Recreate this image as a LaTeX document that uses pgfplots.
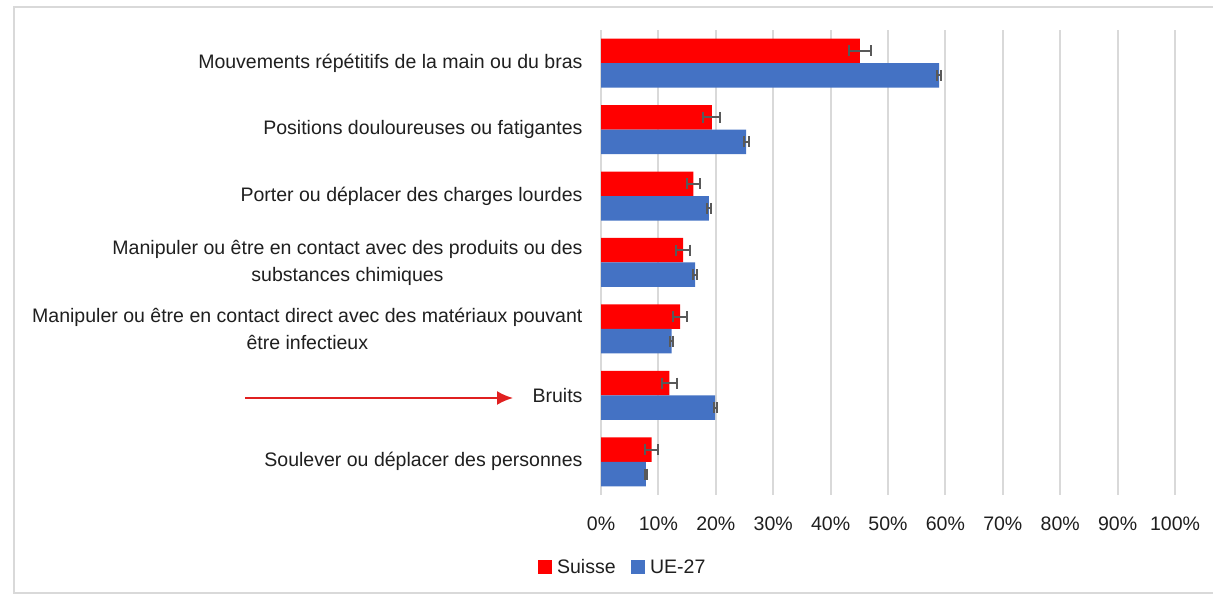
\documentclass[border=0pt]{standalone}
\usepackage{fontspec}
\setmainfont{Liberation Sans}
\usepackage{pgfplots}
\pgfplotsset{compat=1.18}
\usetikzlibrary{arrows.meta}
\definecolor{suisse}{HTML}{FF0000}
\definecolor{ue}{HTML}{4472C4}
\definecolor{gridc}{HTML}{D9D9D9}
\definecolor{errc}{HTML}{595959}
\definecolor{txt}{HTML}{1F1F1F}
\definecolor{arrowc}{HTML}{E02020}
\newcommand{\lblfont}{\fontsize{19.6}{27}\selectfont}
\begin{document}
\begin{tikzpicture}[x=1bp,y=1bp]
\useasboundingbox (0,0) rectangle (1213,595);
\fill[white] (0,0) rectangle (1213,595);
\draw[gridc, line width=2bp] (1230,2) -- (14,2) -- (14,588) -- (1230,588);
\begin{axis}[
  at={(601bp,100bp)}, anchor=south west,
  scale only axis, width=574bp, height=465bp,
  xmin=0, xmax=100, ymin=-0.5, ymax=6.5,
  xbar, bar width=24.5bp,
  axis line style={draw=none},
  major tick length=0pt,
  xtick={0,10,...,100},
  xticklabel={\pgfmathprintnumber{\tick}\%},
  /pgf/number format/assume math mode=true,
  xticklabel style={font=\lblfont, text=txt, yshift=-18bp},
  ytick={0,...,6},
  yticklabels={
    {Soulever ou déplacer des personnes},
    {Bruits},
    {Manipuler ou être en contact direct avec des matériaux pouvant\\être infectieux},
    {Manipuler ou être en contact avec des produits ou des\\substances chimiques},
    {Porter ou déplacer des charges lourdes},
    {Positions douloureuses ou fatigantes},
    {Mouvements répétitifs de la main ou du bras}},
  yticklabel style={font=\lblfont, text=txt, align=center, xshift=-15bp},
  xmajorgrids, ymajorgrids=false,
  major grid style={gridc, line width=2bp},
  legend style={draw=none, fill=none, font=\lblfont, text=txt,
    at={(0.0375,-0.155)}, anchor=center, legend columns=2,
    /tikz/every even column/.append style={column sep=13bp}},
  legend cell align=left,
]
\addplot[fill=suisse, draw=none, bar shift=12.25bp, forget plot,
  error bars/.cd, x dir=both, x explicit,
  error bar style={errc, line width=2bp},
  error mark options={errc, line width=2bp, mark size=5.5bp, rotate=90}]
coordinates {
  (8.8,0) +- (1.1,0)
  (11.9,1) +- (1.3,0)
  (13.8,2) +- (1.2,0)
  (14.3,3) +- (1.2,0)
  (16.1,4) +- (1.2,0)
  (19.3,5) +- (1.5,0)
  (45.1,6) +- (1.9,0)
};
\addplot[fill=ue, draw=none, bar shift=-12.25bp, forget plot,
  error bars/.cd, x dir=both, x explicit,
  error bar style={errc, line width=2bp},
  error mark options={errc, line width=2bp, mark size=5.5bp, rotate=90}]
coordinates {
  (7.8,0) +- (0.2,0)
  (19.9,1) +- (0.3,0)
  (12.3,2) +- (0.2,0)
  (16.4,3) +- (0.3,0)
  (18.8,4) +- (0.3,0)
  (25.3,5) +- (0.4,0)
  (58.9,6) +- (0.4,0)
};
\addlegendimage{legend image code/.code={\fill[suisse] (0bp,-6bp) rectangle (13bp,7bp); \path (17bp,0bp);}}
\addlegendentry{Suisse}
\addlegendimage{legend image code/.code={\fill[ue] (0bp,-6bp) rectangle (13bp,7bp); \path (17bp,0bp);}}
\addlegendentry{UE-27}
\end{axis}
\draw[arrowc, line width=2bp, -{Latex[length=16bp,width=14bp]}] (245,197) -- (513,197);
\end{tikzpicture}
\end{document}
